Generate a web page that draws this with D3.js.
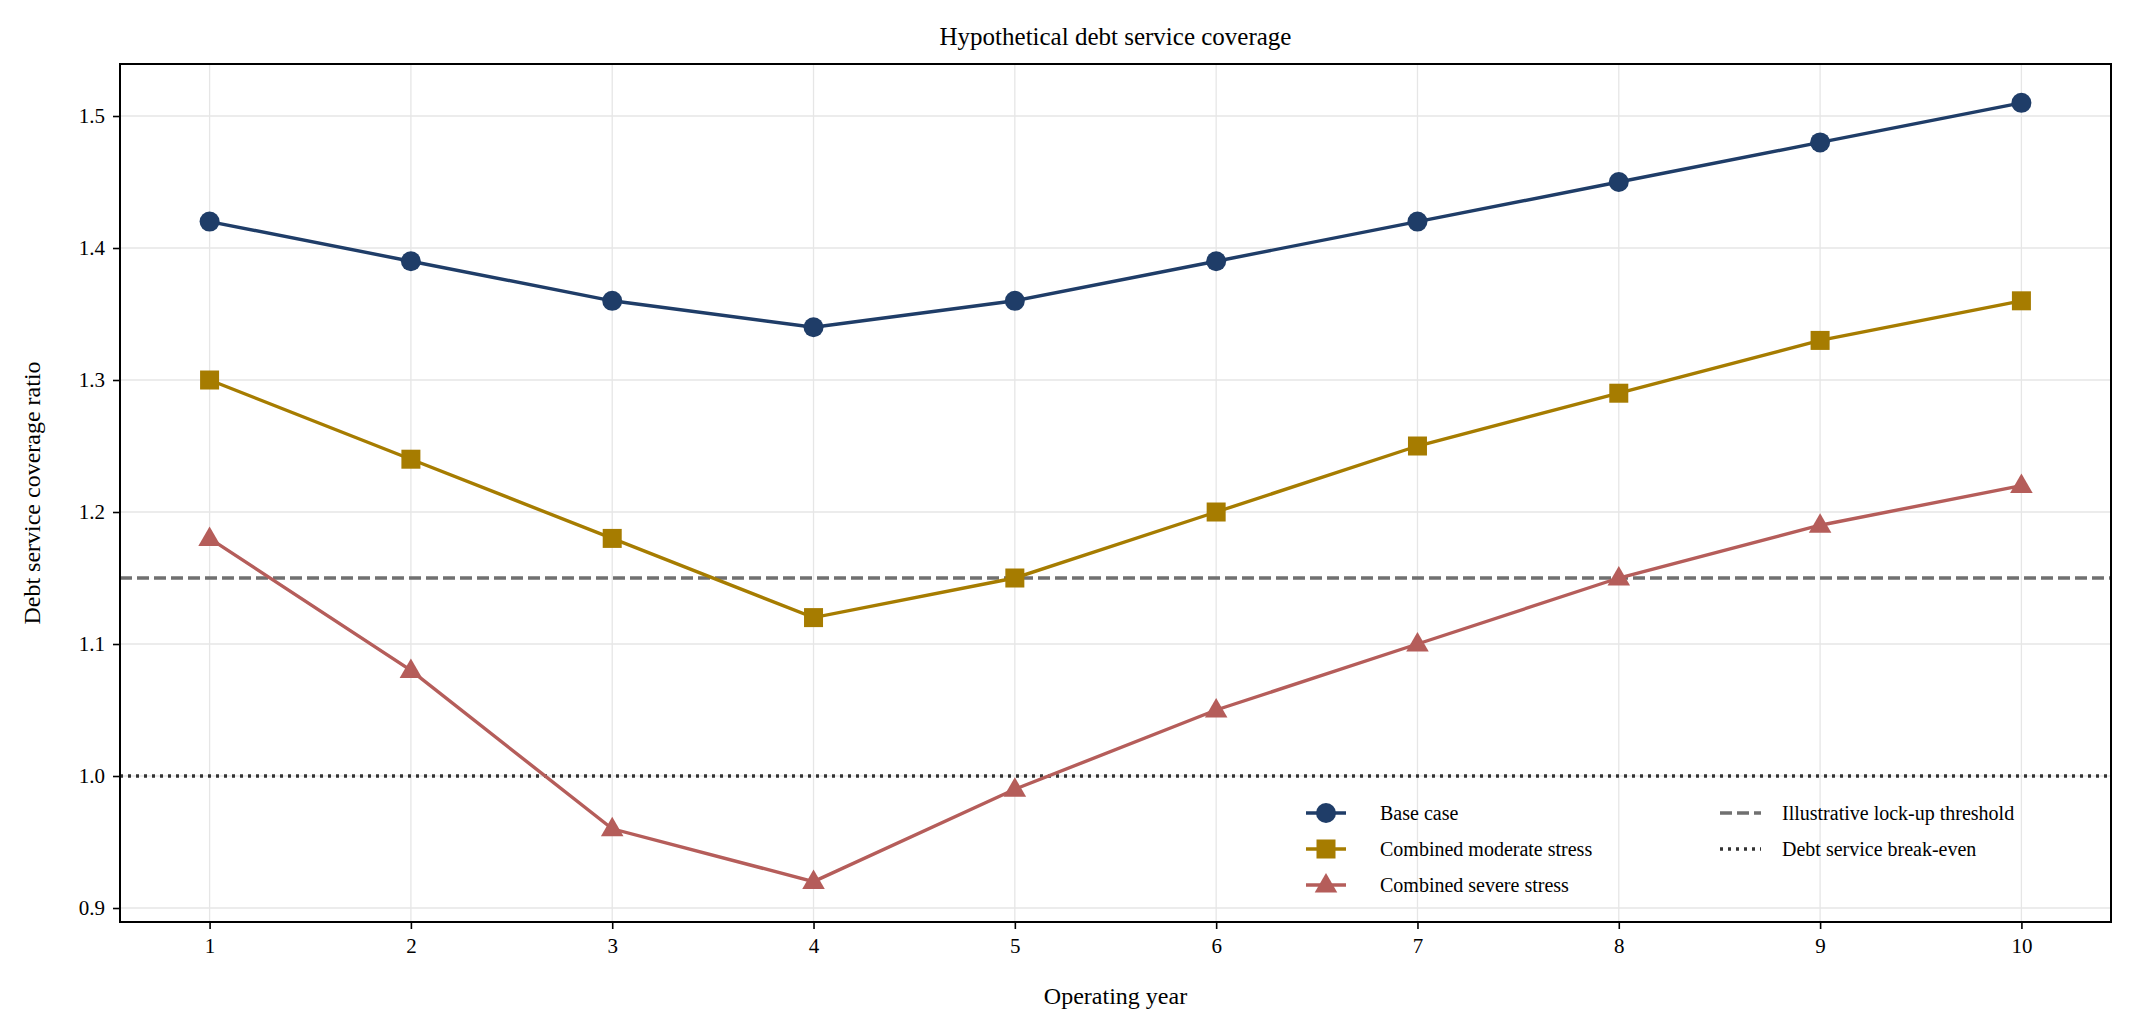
<!DOCTYPE html>
<html><head><meta charset="utf-8">
<script src="https://cdn.jsdelivr.net/npm/d3@7"></script>
<style>body{margin:0;background:#fff}text{font-family:"Liberation Serif","Times New Roman",serif;fill:#000}</style>
</head><body><svg id="c" width="2132" height="1033"></svg>
<script>
const years=[1,2,3,4,5,6,7,8,9,10];
const baseCase=[1.42,1.39,1.36,1.34,1.36,1.39,1.42,1.45,1.48,1.51];
const moderate=[1.30,1.24,1.18,1.12,1.15,1.20,1.25,1.29,1.33,1.36];
const severe=[1.18,1.08,0.96,0.92,0.99,1.05,1.10,1.15,1.19,1.22];
const yTicks=[0.9,1.0,1.1,1.2,1.3,1.4,1.5];
const lockUp=1.15, breakEven=1.0;
const series=[
 {name:"Base case",values:baseCase,color:"#1f3d68",marker:"circle"},
 {name:"Combined moderate stress",values:moderate,color:"#a67c00",marker:"square"},
 {name:"Combined severe stress",values:severe,color:"#b55d5a",marker:"triangle"}];
const svg=d3.select("#c");
const L=120,R=2111,T=64,B=922;
const x=d3.scaleLinear().domain([0.555,10.445]).range([L,R]);
const y=d3.scaleLinear().domain([0.8894,1.5394]).range([B,T]);
const g=svg.append("g");
g.selectAll(".gx").data(years).enter().append("line").attr("x1",d=>x(d)).attr("x2",d=>x(d)).attr("y1",T).attr("y2",B).attr("stroke","#e6e6e6").attr("stroke-width",1.3);
g.selectAll(".gy").data(yTicks).enter().append("line").attr("y1",d=>y(d)).attr("y2",d=>y(d)).attr("x1",L).attr("x2",R).attr("stroke","#e6e6e6").attr("stroke-width",1.3);
g.append("line").attr("x1",L).attr("x2",R).attr("y1",y(lockUp)).attr("y2",y(lockUp)).attr("stroke","#707070").attr("stroke-width",3.4).attr("stroke-dasharray","12,5");
g.append("line").attr("x1",L).attr("x2",R).attr("y1",y(breakEven)).attr("y2",y(breakEven)).attr("stroke","#333").attr("stroke-width",3.4).attr("stroke-dasharray","3,5");
function marker(sel,type,color){
 if(type==="circle") sel.append("circle").attr("r",10).attr("fill",color);
 else if(type==="square") sel.append("rect").attr("x",-9.5).attr("y",-9.5).attr("width",19).attr("height",19).attr("fill",color);
 else sel.append("path").attr("d",d3.symbol(d3.symbolTriangle,220)()).attr("transform","translate(0,1)").attr("fill",color);
}
const line=d3.line().x((d,i)=>x(years[i])).y(d=>y(d));
series.forEach(s=>{
 g.append("path").attr("d",line(s.values)).attr("fill","none").attr("stroke",s.color).attr("stroke-width",3.4);
 s.values.forEach((v,i)=>{const m=g.append("g").attr("transform",`translate(${x(years[i])},${y(v)})`);marker(m,s.marker,s.color);});
});
const xa=svg.append("g").attr("transform",`translate(0,${B})`).call(d3.axisBottom(x).tickValues(years).tickSize(7).tickPadding(9));
const ya=svg.append("g").attr("transform",`translate(${L},0)`).call(d3.axisLeft(y).tickValues(yTicks).tickFormat(d3.format(".1f")).tickSize(7).tickPadding(8));
[xa,ya].forEach(a=>{a.selectAll("text").style("font-size","21px").style("font-family","Liberation Serif");a.selectAll("line").attr("stroke-width",1.6);a.select(".domain").remove();});
svg.append("rect").attr("x",L).attr("y",T).attr("width",R-L).attr("height",B-T).attr("fill","none").attr("stroke","#000").attr("stroke-width",2);
svg.append("text").attr("x",(L+R)/2).attr("y",45).attr("text-anchor","middle").style("font-size","25px").text("Hypothetical debt service coverage");
svg.append("text").attr("x",(L+R)/2).attr("y",1004).attr("text-anchor","middle").style("font-size","24px").text("Operating year");
svg.append("text").attr("transform",`translate(40,${(T+B)/2}) rotate(-90)`).attr("text-anchor","middle").style("font-size","24px").text("Debt service coverage ratio");
const lg=svg.append("g");
series.forEach((s,i)=>{
 const yy=813+i*36;
 lg.append("line").attr("x1",1306).attr("x2",1346).attr("y1",yy).attr("y2",yy).attr("stroke",s.color).attr("stroke-width",3.4);
 marker(lg.append("g").attr("transform",`translate(1326,${yy})`),s.marker,s.color);
 lg.append("text").attr("x",1380).attr("y",yy+7).style("font-size","20px").text(s.name);
});
lg.append("line").attr("x1",1720).attr("x2",1761).attr("y1",813).attr("y2",813).attr("stroke","#707070").attr("stroke-width",3.4).attr("stroke-dasharray","12,5");
lg.append("text").attr("x",1782).attr("y",820).style("font-size","20px").text("Illustrative lock-up threshold");
lg.append("line").attr("x1",1720).attr("x2",1761).attr("y1",849).attr("y2",849).attr("stroke","#333").attr("stroke-width",3.4).attr("stroke-dasharray","3,5");
lg.append("text").attr("x",1782).attr("y",856).style("font-size","20px").text("Debt service break-even");
</script></body></html>
